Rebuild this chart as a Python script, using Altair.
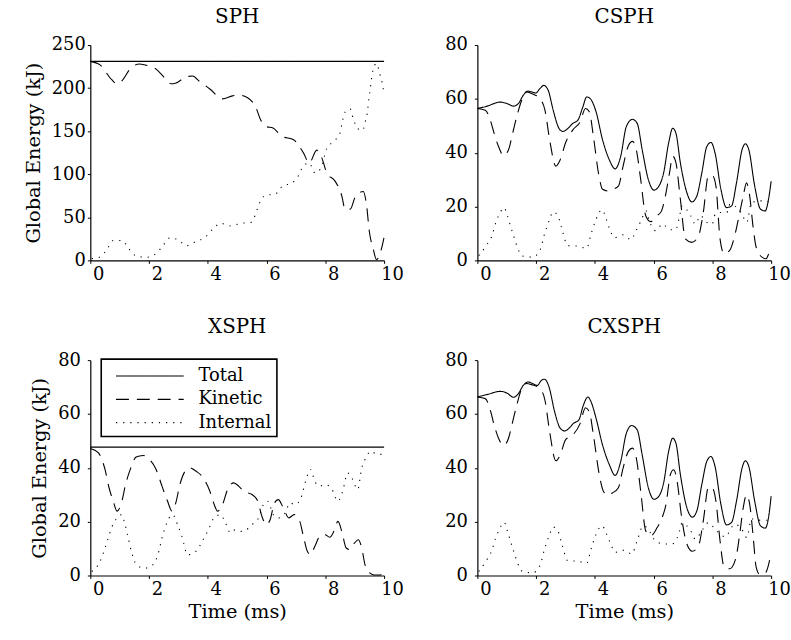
import altair as alt
import pandas as pd

SERIES = ["Total", "Kinetic", "Internal"]

# ---------------- SPH ----------------
sph_total_t = [0, 10]
sph_total_v = [231, 231]
sph_kin_t = [0, 0.33, 0.72, 0.9, 1.06, 1.4, 1.68, 1.96, 2.24, 2.53, 2.75, 2.92, 3.26, 3.48, 3.71, 4.07,
             4.5, 4.84, 5.05, 5.34, 5.63, 5.8, 6.02, 6.2, 6.53, 6.92, 7.26, 7.45, 7.71, 7.88, 8.05, 8.33,
             8.56, 8.67, 8.85, 9.01, 9.29, 9.4, 9.5, 9.63, 9.74, 9.91, 10]
sph_kin_v = [231, 227, 210, 205, 208, 224, 228, 226, 222, 212, 205, 206, 213, 214, 208, 199,
             187.5, 191, 192, 189, 178, 163, 155, 154, 144, 140, 124.5, 113, 128, 119, 101.5, 92,
             75, 59.5, 59.5, 73, 80, 65, 33, 13.5, 1, 13.5, 27]
sph_int_t = [0.05, 0.33, 0.57, 0.78, 1.09, 1.31, 1.57, 1.9, 2.24, 2.47, 2.7, 2.99, 3.26, 3.6, 3.91, 4.16,
             4.44, 4.78, 5.12, 5.46, 5.63, 5.74, 5.96, 6.3, 6.53, 6.87, 7.09, 7.26, 7.45, 7.65, 7.85,
             8.05, 8.3, 8.5, 8.58, 8.67, 8.84, 8.95, 9.1, 9.27, 9.37, 9.44, 9.48, 9.53, 9.57, 9.63,
             9.74, 9.85, 9.94, 10]
sph_int_v = [2, 4, 13, 23, 23, 13.5, 5, 3.6, 8, 17, 26, 24, 17, 22, 27, 36,
             43, 40, 43, 44, 54, 65, 75.5, 77, 86, 90, 98.5, 110, 113, 101.5, 107,
             130, 138.5, 148, 161, 172, 176, 164.5, 153, 151, 162.6, 174, 187.5, 199, 210, 222,
             228.6, 217, 205, 193]

# ---------------- CSPH ----------------
csph_total_t = [0, 0.33, 0.78, 1.0, 1.23, 1.4, 1.56, 1.73, 1.84, 1.99, 2.13, 2.26, 2.41, 2.58, 2.78, 2.91,
                3.08, 3.25, 3.42, 3.59, 3.72, 3.84, 4.04, 4.26, 4.49, 4.69, 4.88, 5.07, 5.28, 5.44, 5.61,
                5.82, 6.01, 6.18, 6.34, 6.51, 6.65, 6.76, 6.91, 7.13, 7.3, 7.47, 7.64, 7.81, 7.95, 8.09,
                8.29, 8.48, 8.65, 8.82, 9.01, 9.12, 9.24, 9.44, 9.64, 9.8, 9.91, 10]
csph_total_v = [56.4, 57.3, 58.8, 58.3, 57.3, 58.3, 61.3, 62.9, 62.6, 62.2, 63.8, 65, 63.2, 55.8, 49, 47.9,
                49, 50.9, 52.1, 57, 60.7, 60.1, 55.2, 44.8, 37.4, 34, 38.7, 49.7, 52.4, 50.9, 41.1,
                30, 26.1, 27.6, 32.5, 43.6, 49.1, 47.2, 36.2, 25.2, 21.7, 23.9, 32.5, 42.3, 43.8, 39.9,
                26.4, 19.6, 20.2, 28.8, 41.1, 43.3, 41.1, 27.6, 19, 18.4, 22.7, 29.4]
csph_kin_t = [0, 0.27, 0.44, 0.57, 0.72, 0.89, 1.06, 1.2, 1.34, 1.51, 1.68, 1.84, 2.13, 2.3, 2.46, 2.67,
              2.82, 3.0, 3.25, 3.5, 3.68, 3.81, 3.95, 4.13, 4.26, 4.43, 4.6, 4.8, 4.96, 5.14, 5.28, 5.41,
              5.56, 5.73, 5.9, 6.12, 6.27, 6.4, 6.54, 6.65, 6.76, 6.91, 7.08, 7.3, 7.53, 7.69, 7.86,
              8.0, 8.12, 8.26, 8.4, 8.59, 8.76, 8.93, 9.05, 9.16, 9.27, 9.38, 9.49, 9.69, 9.83, 9.92, 10]
csph_kin_v = [56.4, 55.8, 52.1, 47.2, 42.3, 38.9, 41.1, 47.2, 53.4, 59.5, 62.6, 62, 60.1, 55.8, 44.8, 35,
              37.4, 43.6, 48.5, 51.5, 56.4, 55.2, 46, 31.9, 26.4, 25.8, 26.4, 27.6, 35, 42.6, 44.2, 41.1,
              30, 16.6, 14.4, 16.6, 18.4, 23.9, 32.5, 38.7, 36.2, 22.7, 8, 6.7, 9.2, 17.8, 31.3,
              31.5, 27.6, 8, 2.5, 3.7, 9.2, 17.8, 23.9, 28.8, 23.9, 12.9, 4.9, 1.2, 0.6, 2.5, 3.7]
csph_int_t = [0.05, 0.3, 0.5, 0.61, 0.75, 0.91, 1.02, 1.14, 1.25, 1.36, 1.54, 1.88, 2.13, 2.27, 2.44, 2.58,
              2.74, 2.86, 3.08, 3.42, 3.72, 3.87, 4.04, 4.24, 4.39, 4.5, 4.67, 4.95, 5.23, 5.4, 5.57,
              5.74, 5.85, 6.07, 6.3, 6.56, 6.75, 6.86, 6.97, 7.26, 7.42, 7.59, 7.82, 7.99, 8.1, 8.27,
              8.49, 8.6, 8.83, 9.0, 9.17, 9.33, 9.66, 10]
csph_int_v = [1.8, 5.5, 9.2, 13.5, 17.2, 19.6, 16.6, 12.3, 8.6, 4.9, 1.6, 1.2, 3.7, 9.2, 14.7, 18,
              16.6, 12.3, 5.5, 5.3, 4.5, 9.8, 15.3, 18.8, 15.3, 11.7, 8.4, 9.5, 7.7, 11, 14.7,
              18.4, 14.7, 11, 13.5, 11.4, 11.4, 15.3, 20.2, 16.6, 13.5, 16.6, 14.1, 13.5, 17.2, 17.8,
              17.8, 20.9, 19.6, 17.2, 14.1, 21.5, 22.1, 21.5]

# ---------------- XSPH ----------------
xsph_total_t = [0, 10]
xsph_total_v = [47.7, 47.7]
xsph_kin_t = [0, 0.27, 0.5, 0.64, 0.78, 0.91, 1.06, 1.2, 1.36, 1.56, 1.79, 2.01, 2.24, 2.44, 2.63, 2.78,
              2.91, 3.05, 3.23, 3.39, 3.59, 3.88, 4.07, 4.22, 4.33, 4.5, 4.67, 4.88, 5.05, 5.22, 5.5,
              5.7, 5.84, 6.0, 6.12, 6.27, 6.4, 6.57, 6.76, 6.94, 7.13, 7.24, 7.39, 7.5, 7.64, 7.81,
              7.98, 8.15, 8.29, 8.43, 8.56, 8.71, 8.84, 8.99, 9.12, 9.24, 9.35, 9.46, 9.66, 9.87, 10]
xsph_kin_v = [47.2, 45.6, 39.4, 32.5, 27.6, 23.9, 27, 33.8, 39.4, 44, 44.6, 43.1, 39.4, 33.2, 27.6, 23.9,
              27, 33.8, 38.8, 40, 38.8, 35.7, 31.3, 26.3, 23.9, 26.3, 31.9, 34.4, 33.2, 31.3, 30.1,
              27.6, 22, 18.9, 20.7, 27, 28.2, 25.1, 21.4, 22.6, 20.1, 15.2, 8.9, 7.7, 10.8, 14.5,
              15.2, 14.2, 16.4, 20.1, 16.4, 10.2, 9.6, 12, 13.3, 10.2, 4, 1.5, 0.2, 0.2, 1.5]
xsph_int_t = [0.05, 0.33, 0.5, 0.61, 0.72, 0.89, 1.06, 1.17, 1.28, 1.4, 1.56, 1.84, 2.13, 2.3, 2.44, 2.58,
              2.8, 2.97, 3.12, 3.31, 3.59, 3.81, 4.02, 4.21, 4.43, 4.6, 4.77, 4.94, 5.16, 5.39, 5.56,
              5.73, 5.89, 6.04, 6.23, 6.4, 6.63, 6.8, 6.96, 7.17, 7.36, 7.5, 7.64, 7.81, 7.98, 8.2,
              8.43, 8.59, 8.76, 8.93, 9.1, 9.24, 9.38, 9.55, 9.72, 9.89, 10]
xsph_int_v = [1.5, 5.2, 10.2, 13.9, 17.6, 21.1, 22.6, 19.5, 14.5, 8.9, 4.2, 2.7, 4, 7.7, 13.9, 18.9,
              22.6, 18.9, 14.5, 7.7, 8.9, 12.7, 17, 21.4, 22.6, 19.5, 15.8, 17, 16.4, 17.6, 19.5,
              21.4, 26.3, 27.6, 22.6, 21.4, 23.2, 27, 26.3, 28.8, 36.3, 39.4, 35, 33.2, 33.8, 32.5,
              27.6, 31.3, 38.1, 35.7, 31.9, 40, 43.7, 46.2, 45.2, 45, 45.2]

# ---------------- CXSPH ----------------
cxsph_total_t = [0, 0.33, 0.78, 1.0, 1.23, 1.4, 1.56, 1.73, 1.88, 2.04, 2.18, 2.29, 2.44, 2.63, 2.82, 2.97,
                 3.14, 3.27, 3.45, 3.61, 3.76, 3.87, 4.04, 4.26, 4.49, 4.69, 4.88, 5.07, 5.25, 5.44, 5.61,
                 5.82, 6.01, 6.18, 6.34, 6.51, 6.65, 6.76, 6.91, 7.13, 7.32, 7.47, 7.64, 7.81, 7.95, 8.09,
                 8.29, 8.48, 8.65, 8.82, 9.01, 9.12, 9.24, 9.44, 9.64, 9.8, 9.91, 10]
cxsph_total_v = [66.3, 67.2, 68.4, 67.8, 66.2, 67.6, 70.6, 71.9, 71.3, 70.6, 72.5, 72.9, 70, 60.8, 54.7, 53.7,
                 54.9, 56.5, 57.7, 63.3, 66.3, 64.5, 58.4, 48.5, 41.2, 37.2, 42.4, 52.8, 55.7, 54.1, 44.8,
                 32.6, 28.3, 29.5, 34.4, 46.1, 51, 49.1, 37.5, 25.2, 21.7, 24, 33.8, 42.4, 44.2, 40.5,
                 26.4, 18.8, 19.7, 27.6, 39.9, 42.6, 40.5, 27.6, 18.4, 17.6, 21.5, 29.5]
cxsph_kin_t = [0, 0.27, 0.44, 0.57, 0.72, 0.89, 1.06, 1.2, 1.34, 1.51, 1.68, 1.84, 2.13, 2.3, 2.46, 2.67,
               2.82, 3.0, 3.25, 3.5, 3.68, 3.81, 3.95, 4.13, 4.29, 4.43, 4.6, 4.8, 4.96, 5.14, 5.28, 5.41,
               5.56, 5.73, 5.9, 6.12, 6.29, 6.42, 6.57, 6.68, 6.8, 6.94, 7.13, 7.32, 7.53, 7.69, 7.86,
               7.98, 8.12, 8.26, 8.4, 8.59, 8.79, 8.93, 9.05, 9.16, 9.27, 9.38, 9.49, 9.61, 9.78, 9.89, 10]
cxsph_kin_v = [66.3, 65.7, 61.4, 55.9, 51, 48.3, 51, 57.1, 63.3, 69.4, 71.3, 70.9, 69.4, 65.1, 53.4, 42.6,
               44.8, 50.4, 52.2, 56.5, 62.3, 60.8, 52.2, 38.7, 31.3, 29.9, 30.7, 32.6, 39.9, 46.1, 47.3, 43.6,
               31.3, 16.6, 14.7, 17.8, 21.5, 26.4, 37.5, 39.3, 35, 22.7, 11.7, 9, 11.1, 20.3, 32.6,
               32.8, 27.6, 12.9, 3.1, 2.5, 6.1, 15.4, 25.2, 29.9, 26.4, 15.4, 3.1, 0.4, 0.6, 3.1, 8.6]
cxsph_int_t = [0.05, 0.3, 0.5, 0.61, 0.75, 0.91, 1.02, 1.14, 1.25, 1.36, 1.54, 1.88, 2.13, 2.27, 2.44, 2.58,
               2.74, 2.86, 3.08, 3.42, 3.72, 3.87, 4.04, 4.24, 4.4, 4.54, 4.69, 5.0, 5.25, 5.44, 5.64,
               5.82, 6.01, 6.34, 6.63, 6.85, 6.97, 7.26, 7.42, 7.64, 7.86, 8.14, 8.43, 8.76, 9.0, 9.17,
               9.33, 9.66, 10]
cxsph_int_v = [1.5, 5.5, 9.5, 13.5, 17.2, 19.8, 16.6, 12.3, 8.6, 4.9, 1.5, 1.0, 3.7, 9.2, 14.7, 18,
               16.6, 12.3, 5.5, 5.3, 4.5, 9.8, 15.3, 18.5, 15.3, 11.7, 8.6, 9.4, 8, 12.9, 18.4,
               17.2, 13.5, 11.7, 11.7, 15.3, 19.5, 16.6, 13.5, 16.6, 19.6, 16.6, 14.4, 19, 17.2, 14.1,
               21, 20.5, 20.5]

x_ticks = [0, 2, 4, 6, 8, 10]
FONT = "DejaVu Serif"


def frame(tt, tv, kt, kv, it, iv):
    rows = []
    for name, ts, vs in (("Total", tt, tv), ("Kinetic", kt, kv), ("Internal", it, iv)):
        for t, v in zip(ts, vs):
            rows.append({"t": t, "v": v, "series": name})
    return pd.DataFrame(rows)


def panel(title, df, ymax, ystep, ytitle, xtitle, show_legend, label_pad, title_offset):
    legend = None
    if show_legend:
        legend = alt.Legend(
            title=None, orient="none", legendX=11, legendY=-1,
            symbolType="M-3.1,0H3.1", symbolSize=484, symbolStrokeWidth=1.1,
            symbolStrokeColor="black", symbolFillColor="transparent",
            labelFont=FONT, labelFontSize=18,
            labelColor="black", labelOffset=37, rowPadding=2.5, padding=5,
            symbolOffset=32, strokeColor="black", fillColor="white",
        )
    return alt.Chart(df).mark_line(color="black", strokeWidth=1.1, interpolate="monotone").encode(
        x=alt.X("t:Q", scale=alt.Scale(domain=[0, 10], nice=False, zero=False),
                axis=alt.Axis(values=x_ticks, title=xtitle, labelOffset=8, labelFlush=False,
                              labelOverlap=False)),
        y=alt.Y("v:Q", scale=alt.Scale(domain=[0, ymax], nice=False),
                axis=alt.Axis(values=list(range(0, ymax + 1, ystep)), title=ytitle,
                              labelPadding=label_pad, titlePadding=8)),
        strokeDash=alt.StrokeDash(
            "series:N",
            scale=alt.Scale(domain=SERIES, range=[[1, 0], [13, 8], [1.2, 6]]),
            legend=legend),
    ).properties(
        width=296, height=217,
        title=alt.TitleParams(title, font=FONT, fontSize=20, fontWeight="normal", color="black",
                              offset=title_offset),
    )


p1 = panel("SPH", frame(sph_total_t, sph_total_v, sph_kin_t, sph_kin_v, sph_int_t, sph_int_v),
           250, 50, "Global Energy (kJ)", None, False, 2, 9)
p2 = panel("CSPH", frame(csph_total_t, csph_total_v, csph_kin_t, csph_kin_v, csph_int_t, csph_int_v),
           80, 20, None, None, False, 7, 9)
p3 = panel("XSPH", frame(xsph_total_t, xsph_total_v, xsph_kin_t, xsph_kin_v, xsph_int_t, xsph_int_v),
           80, 20, "Global Energy (kJ)", "Time (ms)", True, 7, 14)
p4 = panel("CXSPH", frame(cxsph_total_t, cxsph_total_v, cxsph_kin_t, cxsph_kin_v, cxsph_int_t, cxsph_int_v),
           80, 20, None, "Time (ms)", False, 7, 14)

top = alt.hconcat(p1, p2, spacing=41).resolve_scale(strokeDash="independent").resolve_legend(strokeDash="independent")
bottom = alt.hconcat(p3, p4, spacing=41).resolve_scale(strokeDash="independent").resolve_legend(strokeDash="independent")

chart = alt.vconcat(top, bottom, spacing=34.5).resolve_scale(
    strokeDash="independent").resolve_legend(strokeDash="independent").properties(
    padding={"left": 23, "top": 5, "right": 0, "bottom": 0},
    background="white",
).configure_view(stroke=None).configure_axis(
    labelFont=FONT, labelFontSize=18, labelColor="black",
    titleFont=FONT, titleFontSize=19.5, titleFontWeight="normal", titleColor="black",
    domainColor="black", tickColor="black", tickSize=3, grid=False, domainWidth=1.2,
).configure_legend(strokeWidth=1.6)

chart.save("out.html", embed_options={"renderer": "svg", "actions": False})
